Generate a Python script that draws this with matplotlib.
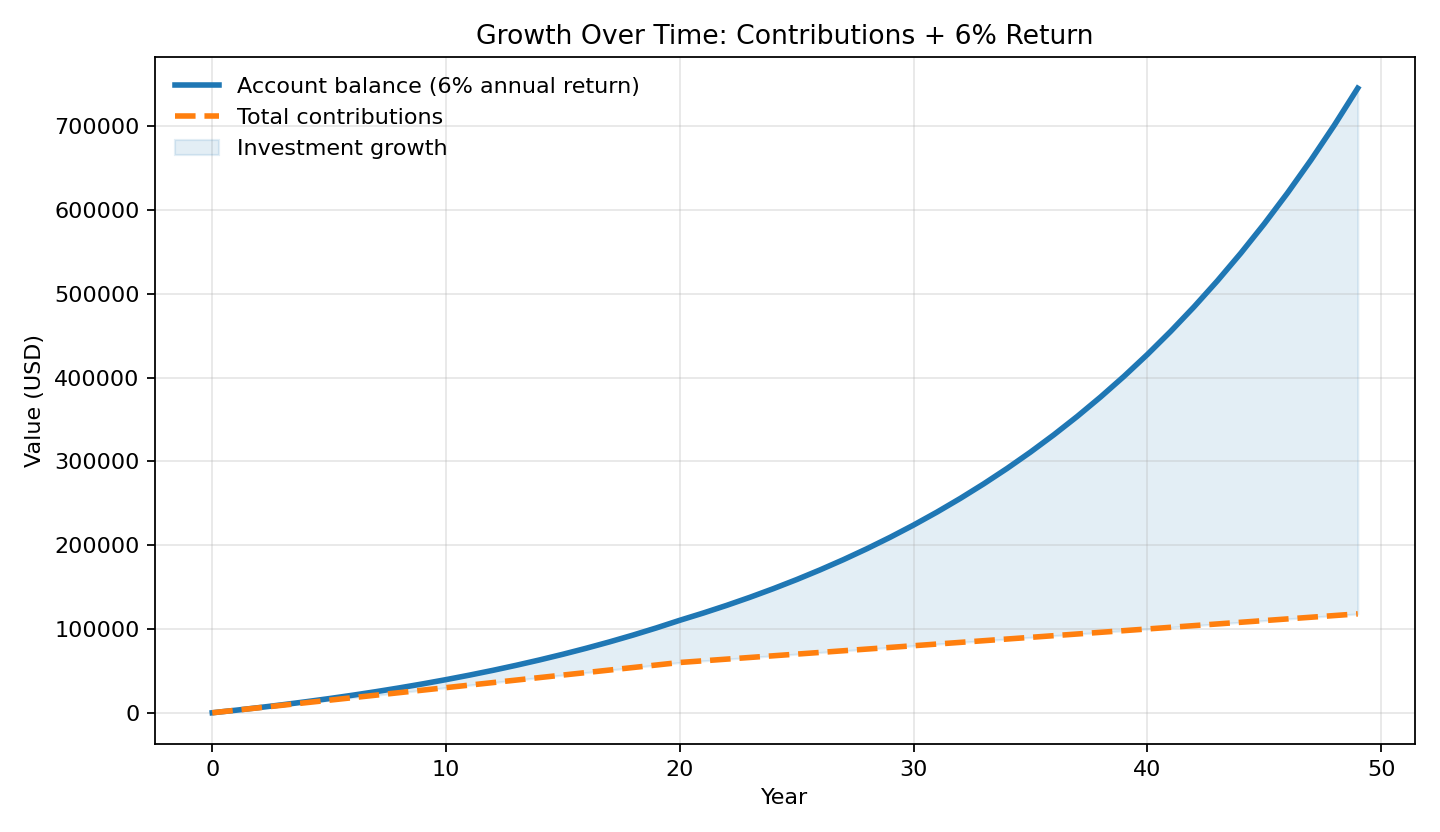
import matplotlib
matplotlib.use("Agg")
import matplotlib.pyplot as plt

years = list(range(0, 50))
balance = [0, 3000, 6180, 9551, 13124, 16911, 20926, 25182, 29692, 34474,
           39542, 44915, 50610, 56646, 63045, 69828, 77018, 84639, 92717, 101280,
           110357, 118978, 128117, 137804, 148072, 158956, 170494, 182723, 195687, 209428,
           223994, 239433, 255799, 273147, 291536, 311028, 331690, 353591, 376807, 401415,
           427500, 455150, 484459, 515526, 548458, 583365, 620367, 659589, 701165, 745235]
contributions = [0, 3000, 6000, 9000, 12000, 15000, 18000, 21000, 24000, 27000,
                 30000, 33000, 36000, 39000, 42000, 45000, 48000, 51000, 54000, 57000,
                 60000, 62000, 64000, 66000, 68000, 70000, 72000, 74000, 76000, 78000,
                 80000, 82000, 84000, 86000, 88000, 90000, 92000, 94000, 96000, 98000,
                 100000, 102000, 104000, 106000, 108000, 110000, 112000, 114000, 116000, 118000]

fig = plt.figure(figsize=(9, 5.2), dpi=160)
ax = fig.add_axes([155/1440, 1-744/832, (1415-155)/1440, (744-57)/832])
ax.plot(years, balance, color="#1f77b4", lw=2.5, label="Account balance (6% annual return)")
ax.plot(years, contributions, color="#ff7f0e", lw=2.5, ls="--", label="Total contributions")
ax.fill_between(years, contributions, balance, color="#1f77b4", alpha=0.12, label="Investment growth")
ax.set_title("Growth Over Time: Contributions + 6% Return", fontsize=12)
ax.set_xlabel("Year")
ax.set_ylabel("Value (USD)")
ax.grid(True, alpha=0.3)
ax.legend(frameon=False, loc="upper left")
fig.savefig("out.png", dpi=160)
